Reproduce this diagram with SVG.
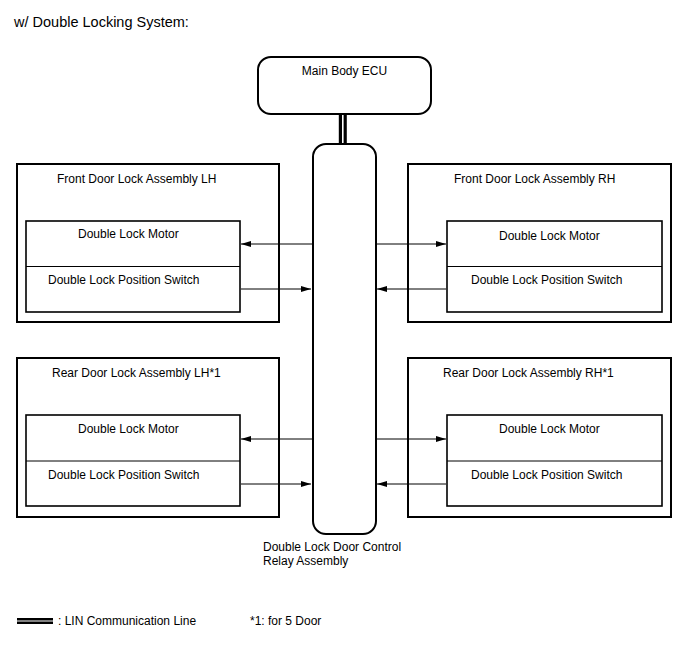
<svg xmlns="http://www.w3.org/2000/svg" width="688" height="658" viewBox="0 0 688 658">
<defs>
<style>
text{font-family:"Liberation Sans",Arial,sans-serif;font-size:12px;fill:#000}
.t{font-size:14.5px}
.box{fill:#fff;stroke:#000;stroke-width:2}
.in{fill:#fff;stroke:#000;stroke-width:1.6}
.ln{stroke:#000;stroke-width:1;fill:none}
</style>
<marker id="ah" viewBox="0 0 10 6" refX="10" refY="3" markerWidth="10" markerHeight="6" markerUnits="userSpaceOnUse" orient="auto"><path d="M0,0L10,3L0,6z" fill="#000"/></marker>
</defs>
<rect width="688" height="658" fill="#fff"/>
<text class="t" x="14" y="27">w/ Double Locking System:</text>

<g id="main-body-ecu">
<rect class="box" x="258" y="57" width="173" height="57" rx="13"/>
<text x="344.5" y="75" text-anchor="middle">Main Body ECU</text>
</g>

<g id="relay">
<rect class="box" x="313" y="144" width="63" height="390" rx="13"/>
<text x="263" y="551">Double Lock Door Control</text>
<text x="263" y="565">Relay Assembly</text>
</g>

<g id="front-lh">
<rect class="box" x="17" y="164" width="262" height="158"/>
<text x="57" y="183">Front Door Lock Assembly LH</text>
<rect class="in" x="26" y="221" width="214" height="91"/>
<line class="ln" x1="26" y1="266.5" x2="240" y2="266.5" stroke-width="1.6"/>
<text x="78" y="238">Double Lock Motor</text>
<text x="48" y="284">Double Lock Position Switch</text>
</g>

<g id="front-rh">
<rect class="box" x="408" y="164" width="263" height="158"/>
<text x="454" y="183">Front Door Lock Assembly RH</text>
<rect class="in" x="447" y="221" width="215" height="91"/>
<line class="ln" x1="447" y1="266.5" x2="662" y2="266.5" stroke-width="1.6"/>
<text x="499" y="240">Double Lock Motor</text>
<text x="471" y="284">Double Lock Position Switch</text>
</g>

<g id="rear-lh">
<rect class="box" x="17" y="358" width="262" height="159"/>
<text x="52" y="377">Rear Door Lock Assembly LH*1</text>
<rect class="in" x="26" y="415" width="214" height="91"/>
<line class="ln" x1="26" y1="461" x2="240" y2="461" stroke-width="1.6"/>
<text x="78" y="433">Double Lock Motor</text>
<text x="48" y="479">Double Lock Position Switch</text>
</g>

<g id="rear-rh">
<rect class="box" x="408" y="358" width="263" height="159"/>
<text x="443" y="377">Rear Door Lock Assembly RH*1</text>
<rect class="in" x="447" y="415" width="215" height="91"/>
<line class="ln" x1="447" y1="461" x2="662" y2="461" stroke-width="1.6"/>
<text x="499" y="433">Double Lock Motor</text>
<text x="471" y="479">Double Lock Position Switch</text>
</g>

<g id="connectors">
<line x1="342.8" y1="115" x2="342.8" y2="143" stroke="#000" stroke-width="8"/>
<line x1="342.8" y1="115" x2="342.8" y2="143" stroke="#fff" stroke-width="1.6"/>
<line class="ln" x1="312" y1="244" x2="241" y2="244" marker-end="url(#ah)"/>
<line class="ln" x1="241" y1="289" x2="311" y2="289" marker-end="url(#ah)"/>
<line class="ln" x1="377" y1="244" x2="446" y2="244" marker-end="url(#ah)"/>
<line class="ln" x1="446" y1="289" x2="377" y2="289" marker-end="url(#ah)"/>
<line class="ln" x1="312" y1="439" x2="241" y2="439" marker-end="url(#ah)"/>
<line class="ln" x1="241" y1="484" x2="311" y2="484" marker-end="url(#ah)"/>
<line class="ln" x1="377" y1="439" x2="446" y2="439" marker-end="url(#ah)"/>
<line class="ln" x1="446" y1="484" x2="377" y2="484" marker-end="url(#ah)"/>
</g>

<g id="legend">
<line x1="17" y1="621" x2="53" y2="621" stroke="#000" stroke-width="6"/>
<line x1="17" y1="621" x2="53" y2="621" stroke="#fff" stroke-width="1.2"/>
<text x="58" y="625">: LIN Communication Line</text>
<text x="250" y="625">*1: for 5 Door</text>
</g>
</svg>
